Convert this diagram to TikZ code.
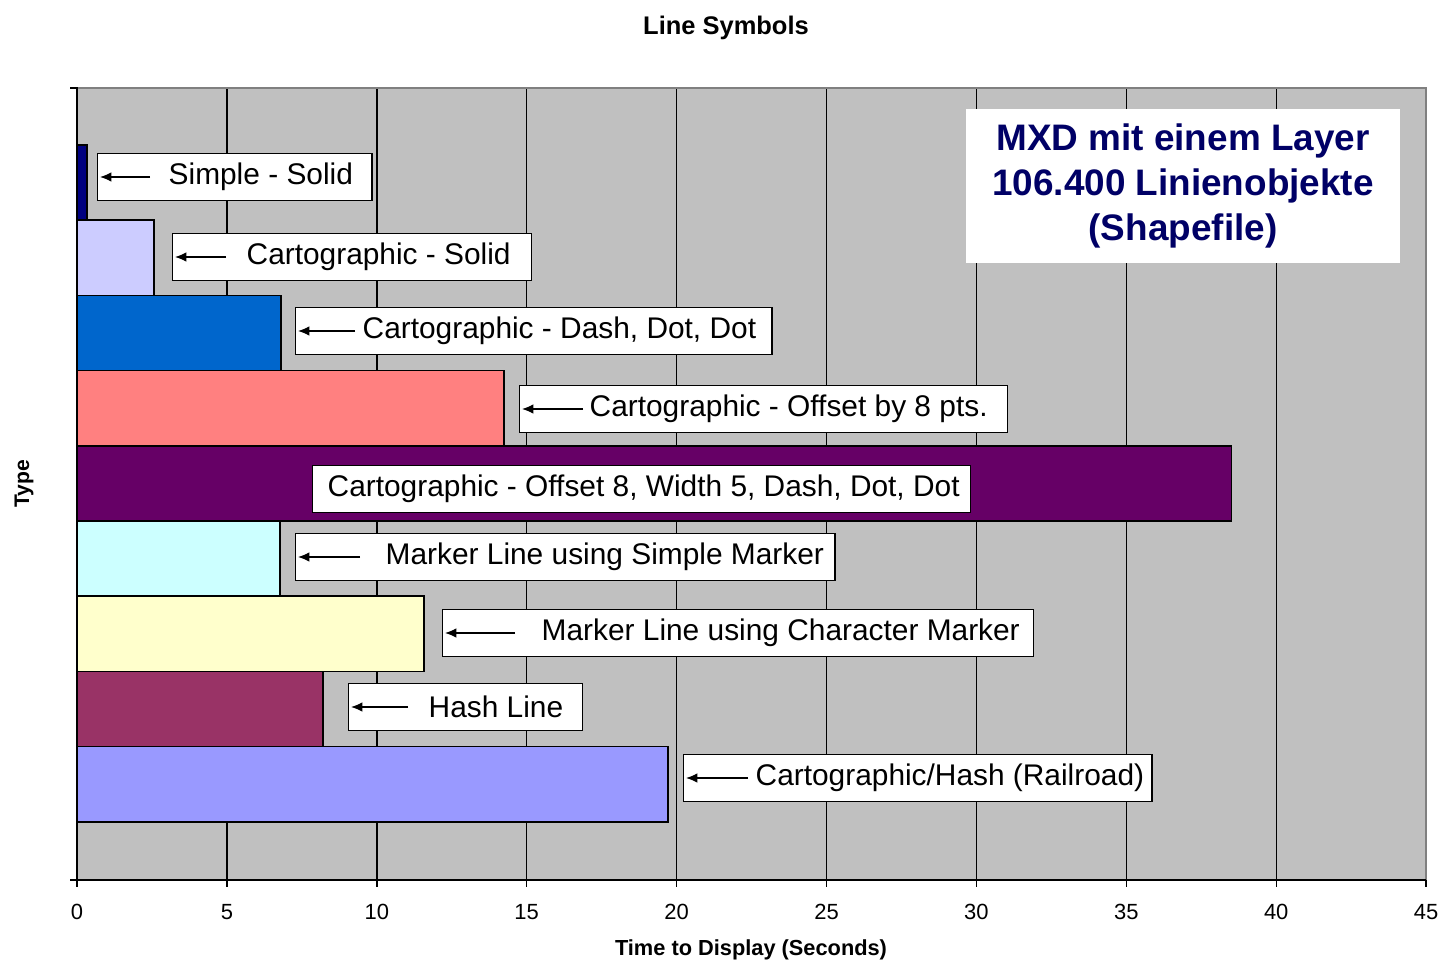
\documentclass[tikz,border=0pt]{standalone}
\usepackage{fontspec}
\setmainfont{Liberation Sans}
\usetikzlibrary{arrows.meta}

\definecolor{plotgrey}{HTML}{C0C0C0}
\definecolor{framegrey}{HTML}{808080}
\definecolor{infonavy}{HTML}{000066}
\definecolor{barA}{HTML}{000080}
\definecolor{barB}{HTML}{CCCCFF}
\definecolor{barC}{HTML}{0066CC}
\definecolor{barD}{HTML}{FF8080}
\definecolor{barE}{HTML}{660066}
\definecolor{barF}{HTML}{CCFFFF}
\definecolor{barG}{HTML}{FFFFCC}
\definecolor{barH}{HTML}{993366}
\definecolor{barI}{HTML}{9999FF}

\newlength{\pxu}
\setlength{\pxu}{0.02cm}

\tikzset{
  lblbox/.style={draw, fill=white, line width=0.8pt, anchor=west, inner xsep=0pt,
    inner ysep=0pt, minimum height=47\pxu, font=\fontsize{17}{20}\selectfont},
  barline/.style={draw=black, line width=0.8pt},
  ticklbl/.style={font=\fontsize{12.5}{15}\selectfont}
}

\begin{document}
\begin{tikzpicture}[x=\pxu, y=-\pxu]
    \useasboundingbox (0,0) rectangle (1450,969);
    \fill[plotgrey] (77,88) rectangle (1426,880);
    \foreach \k in {1,...,8}
    \draw[line width=0.8pt] ({77+149.9*\k},88) -- ({77+149.9*\k},880);
    \foreach \i/\v/\c in {1/0.33/barA,2/2.57/barB,3/6.8/barC,4/14.24/barD,5/38.5/barE,
                          6/6.77/barF,7/11.57/barG,8/8.2/barH,9/19.71/barI}
    \draw[barline, fill=\c] (77,{145+(\i-1)*75.2}) rectangle ({77+29.98*\v},{145+\i*75.2});
    \draw[framegrey, line width=0.8pt] (77,88) -- (1426,88) -- (1426,880);
    \draw[line width=0.8pt] (70,88) -- (77,88) -- (77,880) -- (1426,880);
    \draw[line width=0.8pt] (70,880) -- (77,880);
    \foreach \k in {0,...,9}
    \draw[line width=0.8pt] ({77+149.9*\k},880) -- +(0,7)
      node[ticklbl, anchor=north, yshift=-11\pxu] {\pgfmathparse{int(5*\k)}\pgfmathresult};
    \foreach \i/\yc/\xl/\pad/\alen/\rpad/\txt in {
      1/177/97/71/53/19/{Simple - Solid},
      2/257/172/74/54/21/{Cartographic - Solid},
      3/331/295/67/60/16/{Cartographic - Dash, Dot, Dot},
      4/409/519/70/64/20/{Cartographic - Offset by 8 pts.},
      6/557/295/90/65/11/{Marker Line using Simple Marker},
      7/633/442/99/73/14/{Marker Line using Character Marker},
      8/707/348/80/60/19/{Hash Line},
      9/778/683/72/65/8/{Cartographic/Hash (Railroad)}}
    {
      \node[lblbox] (lbl\i) at (\xl,\yc) {\hspace*{\pad\pxu}\txt\hspace*{\rpad\pxu}};
      \draw[line width=0.8pt, -{Latex[length=6.5pt,width=5.5pt]}]
        ([xshift=\alen\pxu]lbl\i.west) -- ([xshift=3\pxu]lbl\i.west);
    }
    \node[lblbox] (lbl5) at (312,489) {\hspace*{15\pxu}Cartographic - Offset 8, Width 5, Dash, Dot, Dot\hspace*{11\pxu}};
    \node[fill=white, minimum width=434\pxu, minimum height=154\pxu, align=center,
      text=infonavy, font=\bfseries\fontsize{21}{25.5}\selectfont] (info) at (1183,186)
      {MXD mit einem Layer\\106.400 Linienobjekte\\(Shapefile)};
    \node[font=\bfseries\fontsize{14.5}{17}\selectfont] (title) at (726,28) {Line Symbols};
    \node[font=\bfseries\fontsize{12.4}{15}\selectfont] (xlabel) at (751,950) {Time to Display (Seconds)};
    \node[font=\bfseries\fontsize{12}{14}\selectfont, rotate=90] (ylabel) at (24,484) {Type};
  \end{tikzpicture}
\end{document}
